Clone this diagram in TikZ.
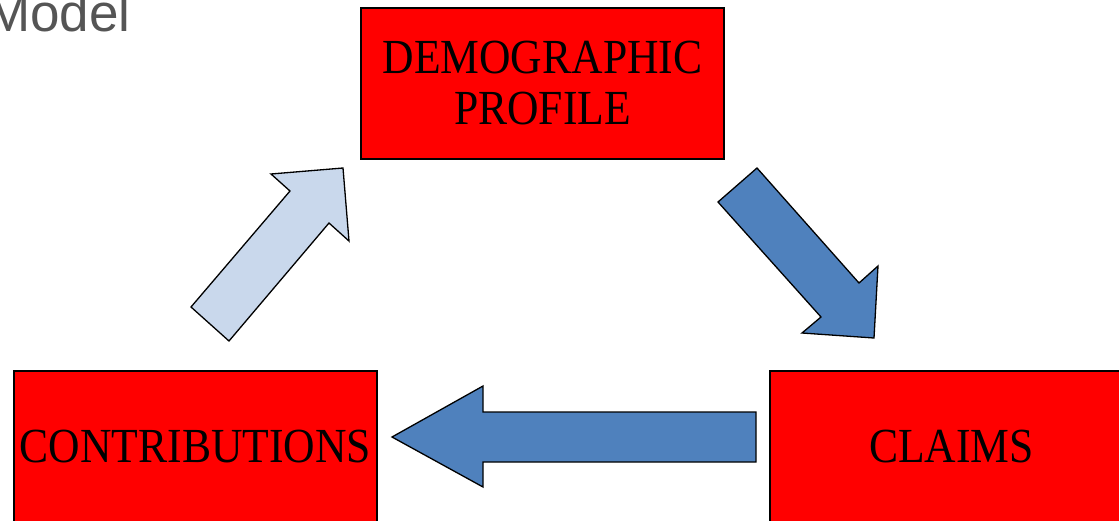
\documentclass[tikz,border=0pt]{standalone}
\usepackage{fontspec}
\newfontfamily\headfont{Liberation Sans}
\newfontfamily\stagefont{Liberation Serif}
\usepackage{graphicx}
\definecolor{boxred}{HTML}{FF0000}
\definecolor{arrowblue}{HTML}{4F81BD}
\definecolor{arrowpale}{HTML}{C9D8EC}
\definecolor{headgray}{HTML}{555555}
\newcommand\caplabel[1]{\scalebox{0.89}[1]{#1}}
\begin{document}
\begin{tikzpicture}[x=1pt,y=-1pt,
  stagebox/.style={draw=black,line width=1.3pt,fill=boxred,
    minimum width=363pt,minimum height=151pt,inner sep=0pt,
    align=center,font=\stagefont\fontsize{49}{51}\selectfont},
  blockarrow/.style={draw=black,line width=1.3pt,line join=miter}]
\useasboundingbox (0,0) rectangle (1119,520);

% title fragment
\node[anchor=base west,inner sep=0pt,text=headgray,
  font=\headfont\fontsize{53}{60}\selectfont] (title) at (-14,31) {Model};

% the three stages
\node[stagebox] (profile) at (542.5,83.5)
  {\caplabel{DEMOGRAPHIC}\\\caplabel{PROFILE}};
\node[stagebox] (contrib) at (195.5,446.5) {\caplabel{CONTRIBUTIONS}};
\node[stagebox] (claims) at (951.5,446.5) {\caplabel{CLAIMS}};

% block arrows of the cycle
\draw[blockarrow,fill=arrowblue] (718,202) -- (757,168) -- (859,283)
  -- (878,266) -- (874,338) -- (802,333) -- (821,317) -- cycle;
\draw[blockarrow,fill=arrowblue] (756,412) -- (483,412) -- (483,386)
  -- (392,437) -- (483,487) -- (483,462) -- (756,462) -- cycle;
\draw[blockarrow,fill=arrowpale] (191,307) -- (290,191) -- (271,174)
  -- (343,168) -- (349,241) -- (329,223) -- (229,341) -- cycle;
\end{tikzpicture}
\end{document}
